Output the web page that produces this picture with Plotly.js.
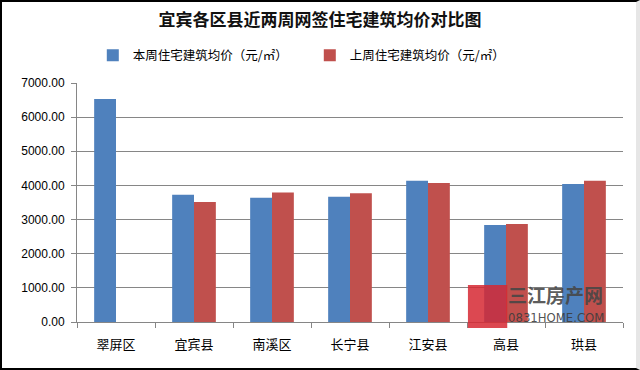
<!DOCTYPE html>
<html>
<head>
<meta charset="utf-8">
<script src="https://cdn.plot.ly/plotly-3.0.1.min.js"></script>
<style>
html,body{margin:0;padding:0;background:#fff;}
#wrap{position:relative;width:640px;height:370px;overflow:hidden;}
#chart{width:640px;height:370px;}
#frame{position:absolute;left:0;top:0;width:640px;height:370px;box-sizing:border-box;
border-left:2px solid #000;border-top:2px solid #000;border-bottom:2px solid #000;border-right:4px solid #e6e6e6;pointer-events:none;}
</style>
</head>
<body>
<div id="wrap"><div id="chart"></div><div id="frame"></div></div>
<script>
const categories = ["翠屏区","宜宾县","南溪区","长宁县","江安县","高县","珙县"];
const thisWeek = [6535, 3730, 3640, 3670, 4140, 2840, 4040];
const lastWeek = [null, 3515, 3790, 3770, 4070, 2870, 4140];
const seriesNames = ["本周住宅建筑均价（元/㎡）","上周住宅建筑均价（元/㎡）"];
const tickValues = [0,1000,2000,3000,4000,5000,6000,7000];

const font = "'Noto Sans CJK SC', 'Noto Sans', sans-serif";

const traces = [
  {type:'bar', name:seriesNames[0], x:categories, y:thisWeek, marker:{color:'#4F81BD'}},
  {type:'bar', name:seriesNames[1], x:categories, y:lastWeek, marker:{color:'#C0504D'}}
];

const layout = {
  width:640, height:370,
  margin:{l:77, r:17, t:83, b:48},
  paper_bgcolor:'#fff', plot_bgcolor:'#fff',
  font:{family:font, color:'#000', size:12},
  title:{text:'<b>宜宾各区县近两周网签住宅建筑均价对比图</b>', x:0.5, xref:'container', xanchor:'center',
         y:0.945, yref:'container', yanchor:'middle', font:{family:font, size:17, color:'#111'}},
  barmode:'group', bargap:0.44, bargroupgap:0,
  showlegend:true,
  legend:{orientation:'h', xref:'container', x:0.145, xanchor:'left', yref:'container', y:0.85, yanchor:'middle',
          font:{family:font, size:12.5, color:'#000'}, entrywidth:172, entrywidthmode:'pixels',
          itemclick:false, traceorder:'normal'},
  xaxis:{type:'category', showline:true, linecolor:'#868686', linewidth:1, ticks:'outside', tickson:'boundaries',
         ticklen:5, tickcolor:'#868686', showgrid:false, ticklabelstandoff:10,
         tickfont:{family:font, size:13, color:'#000'}, fixedrange:true},
  yaxis:{range:[0,7000], tickvals:tickValues, tickformat:'.2f', showline:true, linecolor:'#868686', linewidth:1,
         ticks:'outside', ticklen:5, tickcolor:'#868686', showgrid:true, gridcolor:'#868686', gridwidth:1,
         zeroline:false, ticklabelstandoff:4,
         tickfont:{family:"'Liberation Sans', Arial, sans-serif", size:12, color:'#000'}, fixedrange:true},
  shapes:[
    {type:'rect', xref:'paper', yref:'paper', x0:0.716, x1:0.788, y0:-0.025, y1:0.155,
     fillcolor:'rgba(214,40,50,0.85)', line:{width:0}, layer:'above'}
  ],
  annotations:[
    {xref:'paper', yref:'paper', x:0.877, y:0.113, text:'<b>三江房产网</b>', showarrow:false,
     font:{family:font, size:19, color:'rgba(70,70,70,0.9)'}, xanchor:'center', yanchor:'middle'},
    {xref:'paper', yref:'paper', x:0.877, y:0.02, text:'0831HOME.COM', showarrow:false,
     font:{family:"'Liberation Sans Narrow', 'DejaVu Sans Condensed', sans-serif", size:13, color:'rgba(60,60,60,0.9)'}, xanchor:'center', yanchor:'middle'}
  ]
};

Plotly.newPlot('chart', traces, layout, {displayModeBar:false, staticPlot:true});
</script>
</body>
</html>
